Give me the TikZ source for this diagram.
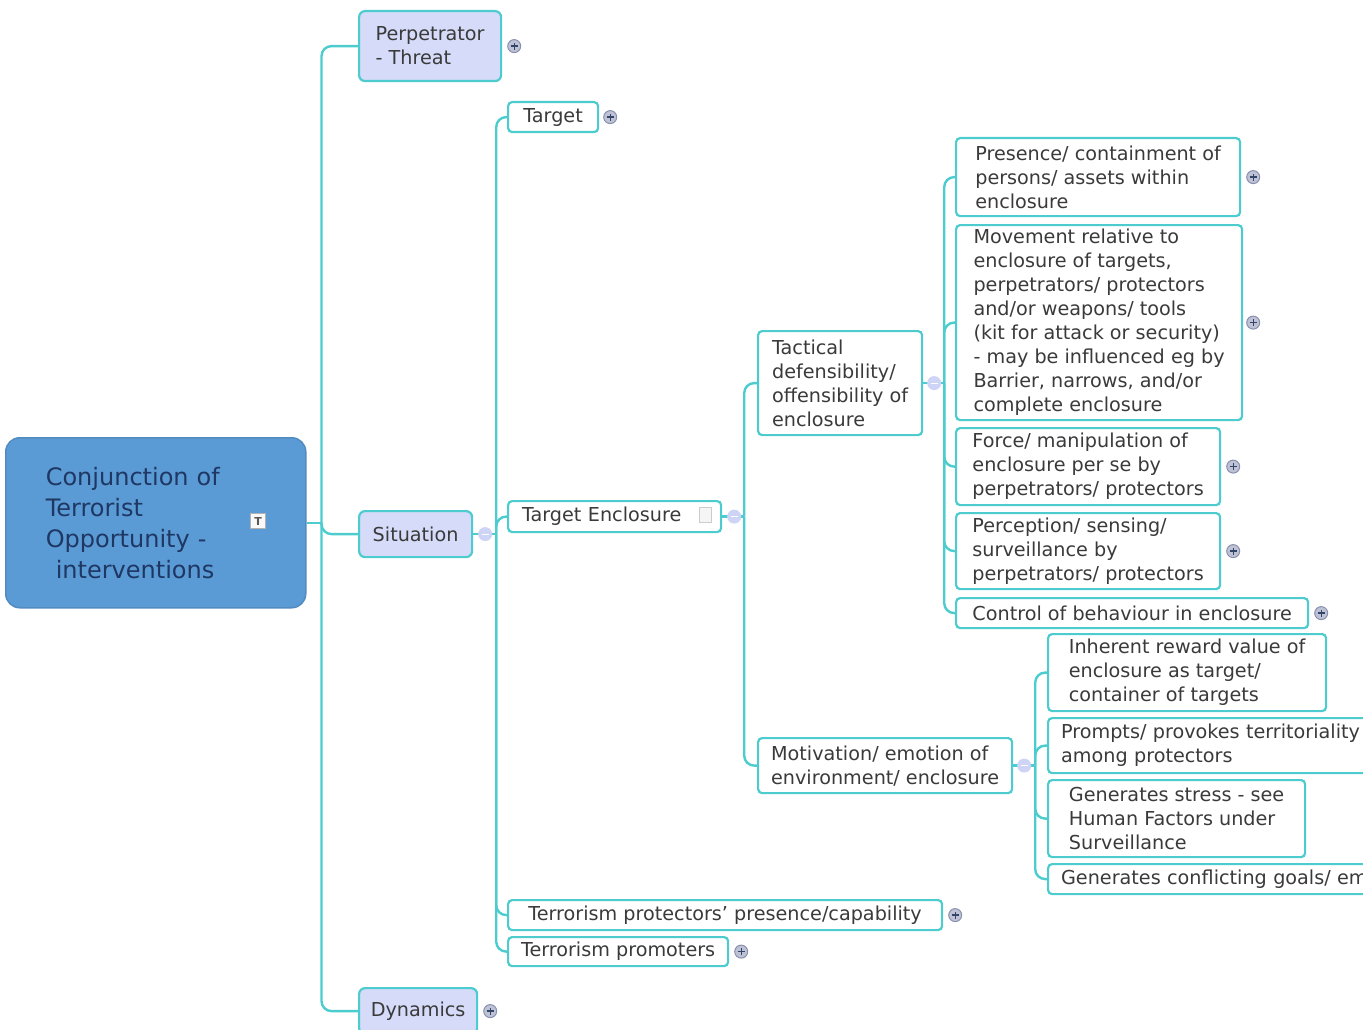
\documentclass[tikz,border=0pt]{standalone}
\usepackage{fontspec}
\setmainfont{DejaVu Sans}
\usetikzlibrary{calc}
\definecolor{mmcyan}{HTML}{4DCCCF}
\definecolor{mmroot}{HTML}{5B9BD5}
\definecolor{mmlav}{HTML}{D5DBF8}
\definecolor{mmtext}{HTML}{3A3A3A}
\definecolor{mmnavy}{HTML}{1E3763}
\definecolor{mmicon}{HTML}{8890B0}
\definecolor{mmfold}{HTML}{CDD4F6}
\tikzset{
  link/.style={draw=mmcyan, line width=2.4pt, rounded corners=10pt},
  topic/.style={draw=mmcyan, line width=2.2pt, rounded corners=4pt, fill=white,
    text=mmtext, anchor=north west, align=left, inner xsep=11pt, inner ysep=3pt,
    font=\fontsize{19.2pt}{24pt}\selectfont},
  main topic/.style={topic, fill=mmlav, rounded corners=6pt},
  central topic/.style={topic, draw=mmroot!90!black, fill=mmroot, text=mmnavy,
    rounded corners=14pt, line width=1.5pt, font=\fontsize{24pt}{31pt}\selectfont},
  expander/.style={circle, draw=mmicon, fill=mmicon!55!white, line width=1pt,
    inner sep=0pt, minimum size=13pt,
    path picture={\draw[mmnavy!80!gray, line width=1.3pt]
      ([xshift=-3.5pt]path picture bounding box.center) -- ([xshift=3.5pt]path picture bounding box.center)
      ([yshift=-3.5pt]path picture bounding box.center) -- ([yshift=3.5pt]path picture bounding box.center);}},
  collapser/.style={circle, fill=mmfold, inner sep=0pt, minimum size=14pt,
    path picture={\draw[white, line width=1.2pt]
      ([xshift=-3.5pt]path picture bounding box.center) -- ([xshift=3.5pt]path picture bounding box.center);}},
  note icon/.style={draw=gray!40, fill=gray!8, line width=0.6pt, inner sep=0pt,
    minimum width=12pt, minimum height=15pt},
  text icon/.style={draw=gray!60, fill=gray!5, line width=0.6pt, inner sep=0pt,
    minimum size=15pt, text=gray!70!black, font=\fontsize{11pt}{11pt}\selectfont\bfseries},
}
\begin{document}
\begin{tikzpicture}[x=1pt, y=-1pt]
\useasboundingbox (0,0) rectangle (1363,1030);
\clip (0,0) rectangle (1363,1030);

% topics
\node[central topic, minimum width=300pt, minimum height=170pt, inner xsep=40pt,
  text width=220pt] (root) at (5,437) {Conjunction of\\ Terrorist\\ Opportunity -\\ \hspace{10pt}interventions};
\node[main topic, minimum width=142pt, minimum height=70pt] (pt) at (358,10) {Perpetrator\\ - Threat};
\node[main topic, minimum width=113pt, minimum height=46pt] (sit) at (358,510) {Situation};
\node[main topic, minimum width=118pt, minimum height=46pt] (dyn) at (358,987) {Dynamics};

\node[topic, minimum width=90pt, minimum height=30pt] (target) at (507,101) {Target};
\node[topic, minimum height=31pt, inner xsep=14pt, text width=185pt] (tenc) at (507,500) {Target Enclosure};
\node[topic, minimum width=434pt, minimum height=30pt] (tprot) at (507,899) {Terrorism protectors' presence/capability};
\node[topic, minimum width=220pt, minimum height=29pt] (tprom) at (507,936) {Terrorism promoters};

\node[topic, minimum width=164pt, minimum height=104pt] (tact) at (757,330) {Tactical\\ defensibility/\\ offensibility of\\ enclosure};
\node[topic, minimum width=254pt, minimum height=55pt] (motiv) at (757,737) {Motivation/ emotion of\\ environment/ enclosure};

\node[topic, minimum width=284pt, minimum height=78pt] (pres) at (955,137) {Presence/ containment of\\ persons/ assets within\\ enclosure};
\node[topic, minimum width=286pt, minimum height=195pt] (move) at (955,224) {Movement relative to\\ enclosure of targets,\\ perpetrators/ protectors\\ and/or weapons/ tools\\ (kit for attack or security)\\ - may be influenced eg by\\ Barrier, narrows, and/or\\ complete enclosure};
\node[topic, minimum width=264pt, minimum height=77pt] (force) at (955,427) {Force/ manipulation of\\ enclosure per se by\\ perpetrators/ protectors};
\node[topic, minimum width=264pt, minimum height=76pt] (perc) at (955,512) {Perception/ sensing/\\ surveillance by\\ perpetrators/ protectors};
\node[topic, minimum width=352pt, minimum height=30pt] (ctrl) at (955,597) {Control of behaviour in enclosure};

\node[topic, minimum width=278pt, minimum height=77pt] (inher) at (1047,633) {Inherent reward value of\\ enclosure as target/\\ container of targets};
\node[topic, minimum height=55pt, inner xsep=13pt, text width=400pt] (prompt) at (1047,717) {Prompts/ provokes territoriality\\ among protectors};
\node[topic, minimum width=257pt, minimum height=77pt] (stress) at (1047,779) {Generates stress - see\\ Human Factors under\\ Surveillance};
\node[topic, minimum height=30pt, inner xsep=13pt, text width=400pt] (confl) at (1047,863) {Generates conflicting goals/ em};

% branches
\coordinate (rootbus) at ($(root.east)+(15,0)$);
\draw[link] (root.east) -- (rootbus);
\draw[link] (rootbus) |- (pt.west);
\draw[link] (rootbus) |- (sit.west);
\draw[link] (rootbus) |- (dyn.west);

\coordinate (sitbus) at ($(sit.east)+(23,0)$);
\draw[link] (sit.east) -- (sitbus);
\draw[link] (sitbus) |- (target.west);
\draw[link] (sitbus) |- (tenc.west);
\draw[link] (sitbus) |- (tprot.west);
\draw[link] (sitbus) |- (tprom.west);

\coordinate (tencbus) at ($(tenc.east)+(22,0)$);
\draw[link] (tenc.east) -- (tencbus);
\draw[link] (tencbus) |- (tact.west);
\draw[link] (tencbus) |- (motiv.west);

\coordinate (tactbus) at ($(tact.east)+(21,0)$);
\draw[link] (tact.east) -- (tactbus);
\draw[link] (tactbus) |- (pres.west);
\draw[link] (tactbus) |- (move.west);
\draw[link] (tactbus) |- (force.west);
\draw[link] (tactbus) |- (perc.west);
\draw[link] (tactbus) |- (ctrl.west);

\coordinate (motivbus) at ($(motiv.east)+(22,0)$);
\draw[link] (motiv.east) -- (motivbus);
\draw[link] (motivbus) |- (inher.west);
\draw[link] (motivbus) |- (prompt.west);
\draw[link] (motivbus) |- (stress.west);
\draw[link] (motivbus) |- (confl.west);

% icons
\node[text icon] (root-t) at (258,521) {T};
\node[note icon] (tenc-n) at (705,515) {};
\node[collapser] (sit-c) at ($(sit.east)+(12,0)$) {};
\node[collapser] (tenc-c) at ($(tenc.east)+(12,0)$) {};
\node[collapser] (tact-c) at ($(tact.east)+(11,0)$) {};
\node[collapser] (motiv-c) at ($(motiv.east)+(11,0)$) {};
\node[expander] (pt-x) at ($(pt.east)+(12,0)$) {};
\node[expander] (target-x) at ($(target.east)+(11,0)$) {};
\node[expander] (tprot-x) at ($(tprot.east)+(12,0)$) {};
\node[expander] (tprom-x) at ($(tprom.east)+(12,0)$) {};
\node[expander] (dyn-x) at ($(dyn.east)+(12,0)$) {};
\node[expander] (pres-x) at ($(pres.east)+(12,0)$) {};
\node[expander] (move-x) at ($(move.east)+(10,0)$) {};
\node[expander] (force-x) at ($(force.east)+(12,0)$) {};
\node[expander] (perc-x) at ($(perc.east)+(12,0)$) {};
\node[expander] (ctrl-x) at ($(ctrl.east)+(12,0)$) {};
\end{tikzpicture}
\end{document}
